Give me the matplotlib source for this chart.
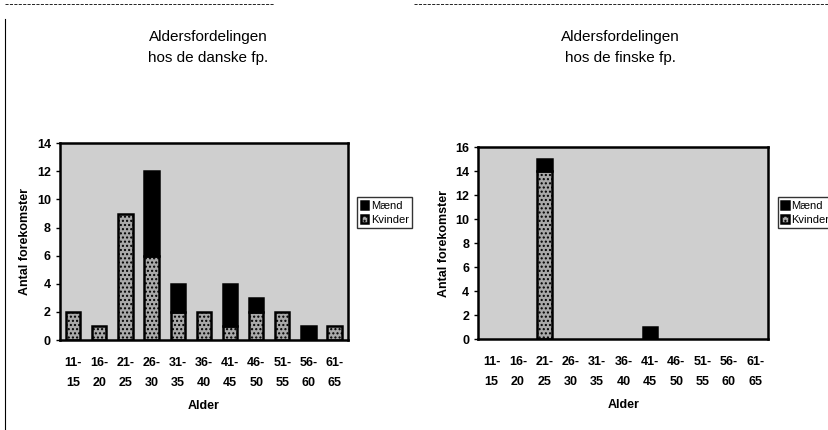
import matplotlib.pyplot as plt
import numpy as np

plt.rcParams['font.family'] = ['Liberation Sans', 'DejaVu Sans']

aldre = ["11-\n15", "16-\n20", "21-\n25", "26-\n30", "31-\n35", "36-\n40",
         "41-\n45", "46-\n50", "51-\n55", "56-\n60", "61-\n65"]

# danske fp.
dk_kvinder = [2, 1, 9, 6, 2, 2, 1, 2, 2, 0, 1]
dk_maend = [0, 0, 0, 6, 2, 0, 3, 1, 0, 1, 0]

# finske fp.
fi_kvinder = [0, 0, 14, 0, 0, 0, 0, 0, 0, 0, 0]
fi_maend = [0, 0, 1, 0, 0, 0, 1, 0, 0, 0, 0]

fig = plt.figure(figsize=(8.29, 4.30), dpi=100)
fig.patch.set_facecolor('white')


def tegn(ax, kvinder, maend, ymax, titel, titx, legpos):
    x = np.arange(len(aldre))
    kv = np.array(kvinder)
    ma = np.array(maend)
    ax.set_facecolor('#cfcfcf')
    k = kv > 0
    m = ma > 0
    ax.bar(x[k], kv[k], width=0.55, color='#a9a9a9', edgecolor='black',
           linewidth=1.8, hatch='....', label='Kvinder')
    ax.bar(x[m], ma[m], width=0.55, bottom=kv[m], color='black',
           edgecolor='black', linewidth=1.8, label='Mænd')
    ax.set_xlim(-0.5, len(aldre) - 0.5)
    ax.set_ylim(0, ymax)
    ax.set_yticks(range(0, ymax + 1, 2))
    ax.set_xticks(x)
    ax.set_xticklabels(aldre, fontsize=9, fontweight='bold', linespacing=1.9)
    ax.tick_params(axis='x', length=0, pad=12)
    ax.tick_params(axis='y', length=3, labelsize=9, width=1)
    for t in ax.get_yticklabels():
        t.set_fontweight('bold')
    for s in ax.spines.values():
        s.set_linewidth(1.8)
    ax.set_xlabel("Alder", fontsize=9, fontweight='bold', labelpad=8)
    ax.set_ylabel("Antal forekomster", fontsize=9, fontweight='bold', labelpad=4)
    fig.text(titx, 0.89, titel, fontsize=11, ha='center', va='center',
             linespacing=1.6)
    h, l = ax.get_legend_handles_labels()
    fig.legend(h[::-1], l[::-1], loc='center left', bbox_to_anchor=legpos,
               fontsize=8, frameon=True, edgecolor='black', fancybox=False,
               handlelength=0.7, handleheight=0.7, handletextpad=0.2,
               borderpad=0.3, labelspacing=0.4, borderaxespad=0)


ax1 = fig.add_axes([0.0724, 0.209, 0.347, 0.458])
tegn(ax1, dk_kvinder, dk_maend, 14, "Aldersfordelingen\nhos de danske fp.",
     0.251, (0.431, 0.505))

ax2 = fig.add_axes([0.577, 0.2116, 0.350, 0.446])
tegn(ax2, fi_kvinder, fi_maend, 16, "Aldersfordelingen\nhos de finske fp.",
     0.748, (0.938, 0.505))

# ramme-linjer fra scanningen
fig.add_artist(plt.Line2D([0.006, 0.006], [0.0, 0.955], color='black', lw=0.8))
fig.add_artist(plt.Line2D([0.006, 0.33], [0.99, 0.99], color='black', lw=0.6, ls='--'))
fig.add_artist(plt.Line2D([0.5, 1.0], [0.99, 0.99], color='black', lw=0.6, ls='--'))

fig.savefig('out.png', dpi=100)
